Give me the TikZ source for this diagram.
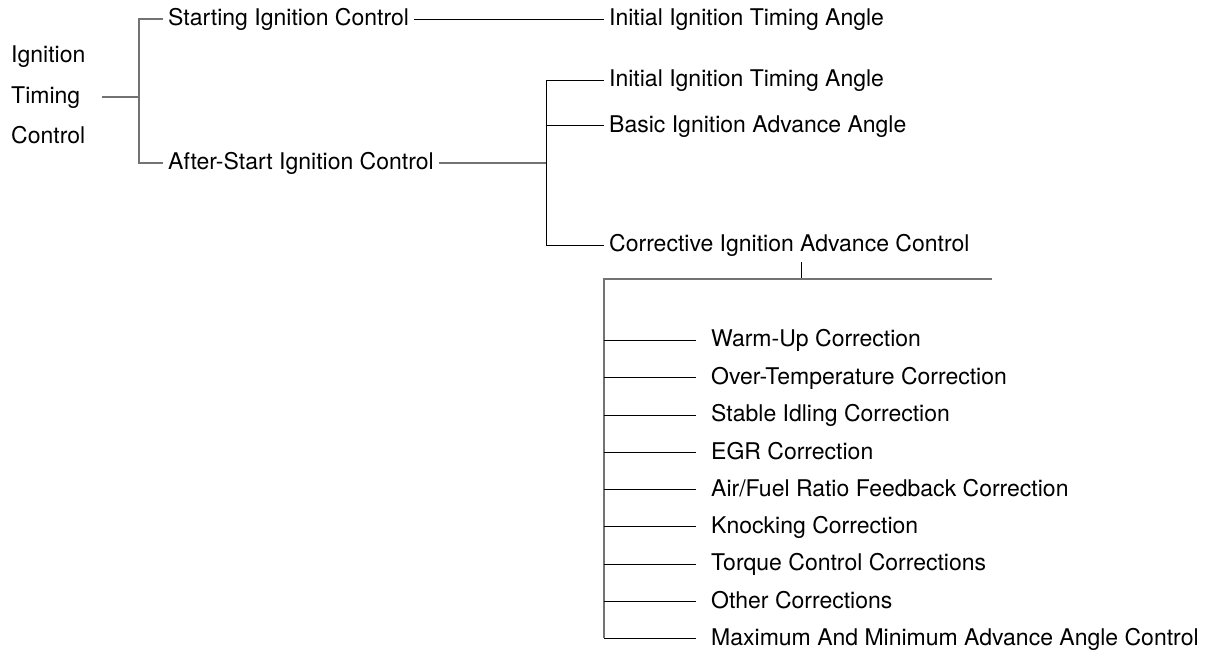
\documentclass[tikz,border=0pt]{standalone}
\usepackage{fontspec}
\setmainfont{TeX Gyre Heros}
\usetikzlibrary{positioning}
\begin{document}
\begin{tikzpicture}[x=1pt,y=-1pt,
  lbl/.style={anchor=west,inner xsep=5pt,inner ysep=0pt,text height=16.5pt,text depth=3pt,font=\fontsize{23}{28}\selectfont},
  corr/.style={lbl,inner xsep=15pt},
  gline/.style={draw=black!55,line width=1.5pt},
  bline/.style={draw=black,line width=0.9pt}]
\useasboundingbox (0,0) rectangle (1210,649);
\node[lbl,inner xsep=0pt] (ign) at (11,56){Ignition};
\node[lbl,inner xsep=0pt] (tim) at (11,97){Timing};
\node[lbl,inner xsep=0pt] (ctl) at (11,137){Control};
\node[lbl] (sic) at (163,19){Starting Ignition Control};
\node[lbl] (asic) at (163,163){After-Start Ignition Control};
\node[lbl] (iita1) at (604,19){Initial Ignition Timing Angle};
\node[lbl] (iita2) at (604,80){Initial Ignition Timing Angle};
\node[lbl] (biaa) at (604,125.5){Basic Ignition Advance Angle};
\node[lbl] (cia) at (604,245){Corrective Ignition Advance Control};
\node[corr] (wu) at (696,340){Warm-Up Correction};
\node[corr] (ot) at (696,377.5){Over-Temperature Correction};
\node[corr] (si) at (696,415){Stable Idling Correction};
\node[corr] (egr) at (696,452.3){EGR Correction};
\node[corr] (afr) at (696,489.5){Air/Fuel Ratio Feedback Correction};
\node[corr] (kn) at (696,526.7){Knocking Correction};
\node[corr] (tq) at (696,564){Torque Control Corrections};
\node[corr] (oc) at (696,601.3){Other Corrections};
\node[corr] (mm) at (696,638.3){Maximum And Minimum Advance Angle Control};
% joints of the brackets
\coordinate (j1) at (139,97);
\coordinate (j2) at (546,163);
\coordinate (s1) at (801,262);
\coordinate (s2) at (801,279);
\coordinate (bl) at (604,279);
\coordinate (br) at (992,279);
\coordinate (bb) at (604,638.3);
% first level
\draw[gline] ([xshift=22pt]tim.east) -- (j1);
\draw[gline] (sic.west) -| (j1 |- asic.west) -- (asic.west);
\draw[bline] (sic.east) -- (iita1.west);
% after-start
\draw[gline] (asic.east) -- (j2);
\draw[bline] (iita2.west) -| (j2 |- cia.west) -- (cia.west);
\draw[bline] (biaa.west) -- (biaa.west -| j2);
% corrections
\draw[bline] (s1) -- (s2);
\draw[gline] (br) -- (bl) -- (bb);
\draw[bline] (wu.west -| bl) -- (wu.west);
\draw[bline] (ot.west -| bl) -- (ot.west);
\draw[bline] (si.west -| bl) -- (si.west);
\draw[bline] (egr.west -| bl) -- (egr.west);
\draw[bline] (afr.west -| bl) -- (afr.west);
\draw[bline] (kn.west -| bl) -- (kn.west);
\draw[bline] (tq.west -| bl) -- (tq.west);
\draw[bline] (oc.west -| bl) -- (oc.west);
\draw[bline] (mm.west -| bl) -- (mm.west);
\end{tikzpicture}
\end{document}
